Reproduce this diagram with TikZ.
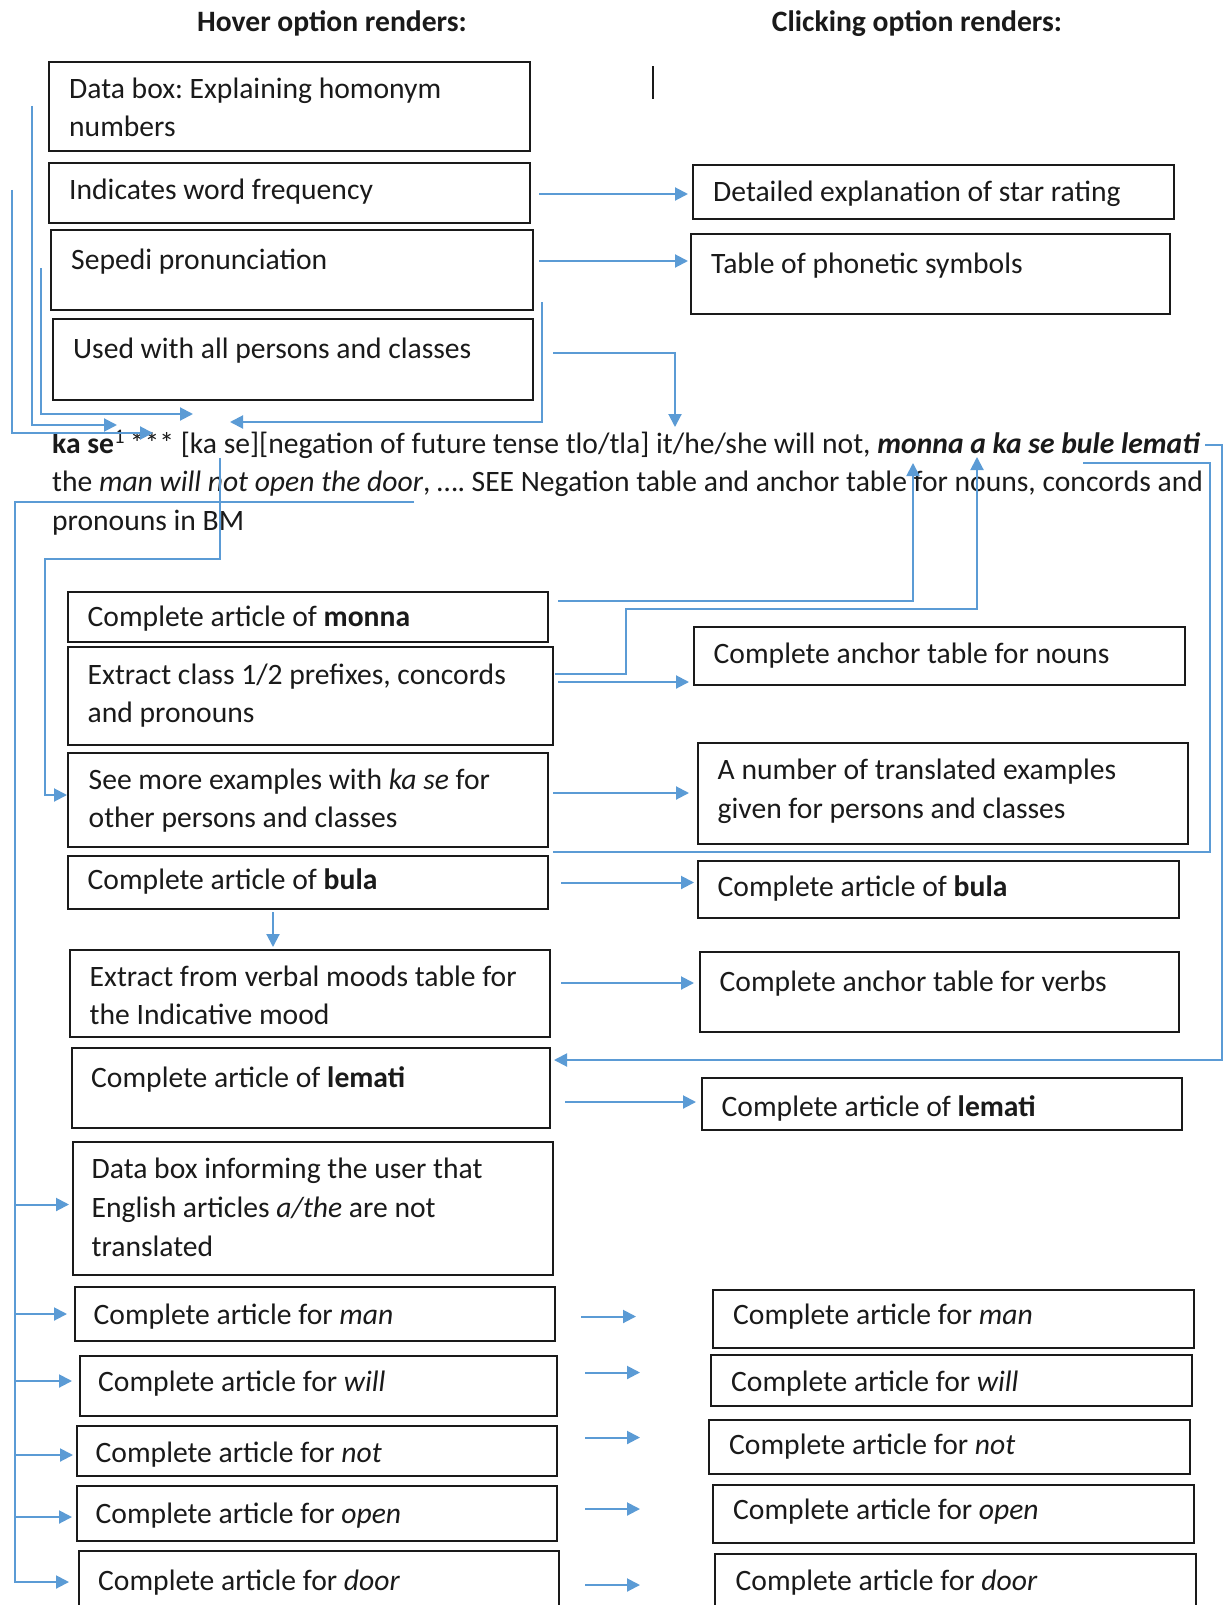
\documentclass[tikz,border=0pt]{standalone}
\usepackage{fontspec}
\setmainfont{Carlito}
\usetikzlibrary{arrows.meta,fit}
\definecolor{linkblue}{HTML}{5B9BD5}
\definecolor{ink}{HTML}{1A1A1A}
\frenchspacing
\tikzset{
  boxst/.style={draw=ink, line width=2pt, inner sep=0pt},
  txt/.style={anchor=base west, inner sep=0pt, text=ink, font=\fontsize{29.6}{38}\selectfont},
  head/.style={anchor=base, inner sep=0pt, text=ink, font=\fontsize{29.6}{38}\selectfont\bfseries},
  conn/.style={draw=linkblue, line width=2pt},
  arr/.style={conn, -{Triangle[length=13pt,width=13pt]}},
}
\begin{document}
\begin{tikzpicture}[x=1pt,y=-1pt]
\useasboundingbox (0,0) rectangle (1224,1605);
\fill[white] (0,0) rectangle (1224,1605);
\clip (0,0) rectangle (1224,1605);

% headers
\node[head] (h1) at (332,32) {Hover option renders:};
\node[head] (h2) at (917,32) {Clicking option renders:};
\draw[ink, line width=1.5pt] (653,66.5) -- (653,99);

% left column, top boxes
\node[boxst, fit={(49,62)(530,151)}] (hb1) {};
\node[txt] (hb1a) at (69,98.5) {Data box: Explaining homonym};
\node[txt] (hb1b) at (69,136.5) {numbers};
\node[boxst, fit={(49,163)(530,223)}] (hb2) {};
\node[txt] (hb2a) at (69,199.5) {Indicates word frequency};
\node[boxst, fit={(51,230)(533,310)}] (hb3) {};
\node[txt] (hb3a) at (71,269.5) {Sepedi pronunciation};
\node[boxst, fit={(53,319)(533,400)}] (hb4) {};
\node[txt] (hb4a) at (73,358.5) {Used with all persons and classes};

% right column, top boxes
\node[boxst, fit={(693,165)(1174,219)}] (cb1) {};
\node[txt] (cb1a) at (713,202) {Detailed explanation of star rating};
\node[boxst, fit={(691,234)(1170,314)}] (cb2) {};
\node[txt] (cb2a) at (711,273.5) {Table of phonetic symbols};

% main entry text
\node[txt] (m1) at (52,453) {\textbf{ka se}\textsuperscript{1}\,*** [ka se][negation of future tense tlo/tla] it/he/she will not, \textbf{\textit{monna a ka se bule lemati}}};
\node[txt] (m2) at (52,491.5) {the \textit{man will not open the door}, …. SEE Negation table and anchor table for nouns, concords and};
\node[txt] (m3) at (52,530) {pronouns in BM};

% left column, lower boxes
\node[boxst, fit={(67.5,591.5)(547.5,641.5)}] (hm) {};
\node[txt] (hma) at (87.5,626.5) {Complete article of \textbf{monna}};
\node[boxst, fit={(67.5,647)(552.5,745)}] (hx) {};
\node[txt] (hxa) at (87.5,684) {Extract class 1/2 prefixes, concords};
\node[txt] (hxb) at (87.5,722) {and pronouns};
\node[boxst, fit={(67.5,752.5)(548,847)}] (hs) {};
\node[txt] (hsa) at (88.5,789.5) {See more examples with \textit{ka se} for};
\node[txt] (hsb) at (88.5,827.5) {other persons and classes};
\node[boxst, fit={(67.5,855.5)(547.5,909)}] (hbu) {};
\node[txt] (hbua) at (87.5,889.5) {Complete article of \textbf{bula}};
\node[boxst, fit={(69.5,949.5)(549.5,1036.5)}] (hv) {};
\node[txt] (hva) at (89.5,986) {Extract from verbal moods table for};
\node[txt] (hvb) at (89.5,1024) {the Indicative mood};
\node[boxst, fit={(71.5,1048)(549.5,1128)}] (hl) {};
\node[txt] (hla) at (91,1087) {Complete article of \textbf{lemati}};
\node[boxst, fit={(72.5,1142)(552.5,1275)}] (hd) {};
\node[txt] (hda) at (91.5,1178) {Data box informing the user that};
\node[txt] (hdb) at (91.5,1217) {English articles \textit{a/the} are not};
\node[txt] (hdc) at (91.5,1256) {translated};
\node[boxst, fit={(74.5,1287)(554.5,1340.5)}] (hman) {};
\node[txt] (hmana) at (93.5,1324.5) {Complete article for \textit{man}};
\node[boxst, fit={(79.5,1356)(556.5,1416)}] (hwill) {};
\node[txt] (hwilla) at (98,1391) {Complete article for \textit{will}};
\node[boxst, fit={(76.5,1425.5)(556.5,1476)}] (hnot) {};
\node[txt] (hnota) at (95.5,1462.5) {Complete article for \textit{not}};
\node[boxst, fit={(76.5,1486)(556.5,1541)}] (hopen) {};
\node[txt] (hopena) at (95.5,1523) {Complete article for \textit{open}};
\node[boxst, fit={(79,1551)(559,1625)}] (hdoor) {};
\node[txt] (hdoora) at (98,1590.5) {Complete article for \textit{door}};

% right column, lower boxes
\node[boxst, fit={(694,626.5)(1185,685)}] (cn) {};
\node[txt] (cna) at (713.5,663.5) {Complete anchor table for nouns};
\node[boxst, fit={(698,743)(1188,843.5)}] (ce) {};
\node[txt] (cea) at (717.5,779) {A number of translated examples};
\node[txt] (ceb) at (717.5,818) {given for persons and classes};
\node[boxst, fit={(698,860.5)(1178.5,917.5)}] (cbu) {};
\node[txt] (cbua) at (717.5,896) {Complete article of \textbf{bula}};
\node[boxst, fit={(700,952)(1178.5,1032)}] (cv) {};
\node[txt] (cva) at (719.5,991) {Complete anchor table for verbs};
\node[boxst, fit={(702,1077.5)(1182,1130)}] (cl) {};
\node[txt] (cla) at (721.5,1116) {Complete article of \textbf{lemati}};
\node[boxst, fit={(713,1289.5)(1194,1347.5)}] (cman) {};
\node[txt] (cmana) at (733,1324.5) {Complete article for \textit{man}};
\node[boxst, fit={(711,1355)(1192,1406)}] (cwill) {};
\node[txt] (cwilla) at (731,1391) {Complete article for \textit{will}};
\node[boxst, fit={(709,1420)(1190,1473.5)}] (cnot) {};
\node[txt] (cnota) at (729,1454.5) {Complete article for \textit{not}};
\node[boxst, fit={(713,1485)(1194,1542.5)}] (copen) {};
\node[txt] (copena) at (733,1519) {Complete article for \textit{open}};
\node[boxst, fit={(715,1554)(1196,1625)}] (cdoor) {};
\node[txt] (cdoora) at (735.5,1590.5) {Complete article for \textit{door}};

% connectors: top hover boxes to entry text
\coordinate (s1) at (12,190);   \coordinate (e1) at (153,433);
\coordinate (s2) at (32,106);   \coordinate (e2) at (117,425);
\coordinate (s3) at (41,268);   \coordinate (e3) at (193,414);
\coordinate (s4) at (541.5,302);\coordinate (e4) at (230,422);
\coordinate (s5) at (553,353);  \coordinate (e5) at (675,427);
\draw[arr] (s1) |- (e1);
\draw[arr] (s2) |- (e2);
\draw[arr] (s3) |- (e3);
\draw[arr] (s4) |- (e4);
\draw[arr] (s5) -| (e5);

% hover -> click (top)
\coordinate (f1) at (539,194);  \coordinate (g1) at (688,194);
\coordinate (f2) at (539,261);  \coordinate (g2) at (688,261);
\draw[arr] (f1) -- (g1);
\draw[arr] (f2) -- (g2);

% lemati loops on the right
\coordinate (l1) at (1205,445); \coordinate (l2) at (1222,1060); \coordinate (l3) at (554,1060);
\draw[arr] (l1) -| (l2) -- (l3);
\coordinate (k1) at (1083,463); \coordinate (k2) at (1210,852); \coordinate (k3) at (553,852);
\draw[conn] (k1) -| (k2) -- (k3);

% monna / extract arrows up into the text
\coordinate (a1) at (558,601); \coordinate (a1t) at (913,463);
\draw[arr] (a1) -| (a1t);
\coordinate (a2) at (555,674); \coordinate (a2m) at (626,609); \coordinate (a2t) at (977,457);
\draw[arr] (a2) -| (a2m) -| (a2t);
\coordinate (a3) at (558,682); \coordinate (a3t) at (689,682);
\draw[arr] (a3) -- (a3t);

% text down to "See more examples"
\coordinate (t1) at (220,458); \coordinate (t2) at (45,559); \coordinate (t3) at (67,795);
\draw[arr] (t1) |- (t2) |- (t3);

% long left trunk
\coordinate (u1) at (414,502); \coordinate (u2) at (15,1582); \coordinate (u3) at (69,1582);
\draw[arr] (u1) -| (u2) -- (u3);
\draw[arr] (15,1204.5) -- (69,1204.5);
\draw[arr] (15,1314) -- (67,1314);
\draw[arr] (15,1381) -- (72,1381);
\draw[arr] (15,1455) -- (73,1455);
\draw[arr] (15,1517) -- (72,1517);

% middle arrows
\draw[arr] (553,793) -- (689,793);
\draw[arr] (561,882.5) -- (694,882.5);
\draw[arr] (561,983) -- (694,983);
\draw[arr] (565,1102) -- (696,1102);
\draw[arr] (hbu.south -| 273,0) ++(0,2) -- (273,947);

% bottom short arrows
\draw[arr] (581,1316.5) -- (636,1316.5);
\draw[arr] (585,1372.5) -- (640,1372.5);
\draw[arr] (585,1437.5) -- (640,1437.5);
\draw[arr] (585,1509) -- (640,1509);
\draw[arr] (585,1585) -- (640,1585);
\end{tikzpicture}
\end{document}
